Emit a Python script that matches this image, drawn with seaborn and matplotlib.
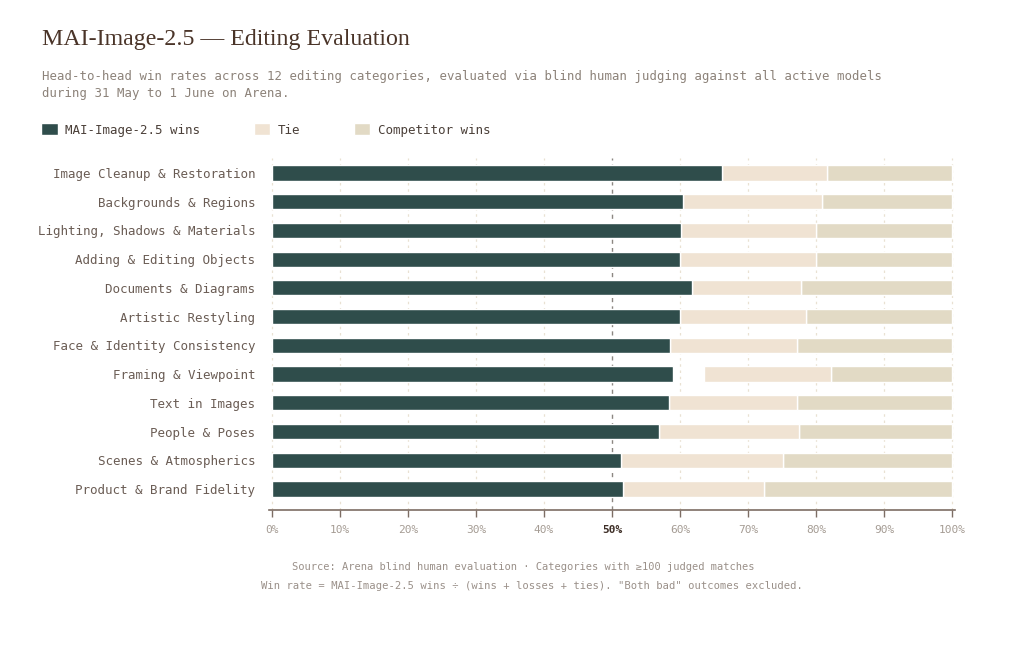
import numpy as np
import pandas as pd
import matplotlib
matplotlib.use("Agg")
import matplotlib.pyplot as plt
from matplotlib.patches import Patch
import seaborn as sns

categories = [
    "Image Cleanup & Restoration",
    "Backgrounds & Regions",
    "Lighting, Shadows & Materials",
    "Adding & Editing Objects",
    "Documents & Diagrams",
    "Artistic Restyling",
    "Face & Identity Consistency",
    "Framing & Viewpoint",
    "Text in Images",
    "People & Poses",
    "Scenes & Atmospherics",
    "Product & Brand Fidelity",
]
wins = [66.2, 60.4, 60.2, 60.0, 61.7, 60.0, 58.5, 59.0, 58.4, 56.9, 51.3, 51.6]
ties = [15.4, 20.4, 19.8, 20.0, 16.1, 18.5, 18.7, 18.7, 18.8, 20.6, 23.8, 20.7]
competitor = [18.4, 19.2, 20.0, 20.0, 22.2, 21.5, 22.8, 17.8, 22.8, 22.5, 24.9, 27.7]
xticks = [0, 10, 20, 30, 40, 50, 60, 70, 80, 90, 100]

WIN_C = "#2f4d4b"
TIE_C = "#f0e3d3"
COMP_C = "#e2dac5"
MONO = "DejaVu Sans Mono"

sns.set_theme(style="white")
plt.rcParams["font.family"] = [MONO]

df = pd.DataFrame({"category": categories, "wins": wins,
                   "ties": ties, "competitor": competitor})
# competitor bar sits at the right end, tie bar just left of it
comp_left = 100 - df["competitor"]
tie_left = comp_left - df["ties"]

fig = plt.figure(figsize=(10.24, 6.51), dpi=100)
ax = fig.add_axes([269 / 1024, 1 - 510 / 651, 686 / 1024, 352 / 651])

# grid
for t in xticks:
    if t == 50:
        ax.axvline(t, color="#8c8782", lw=1.0, ls=(0, (3, 3)), zorder=0.5)
    else:
        ax.axvline(t, color="#e9e1d2", lw=0.9, ls=(0, (2, 3)), zorder=0.5)

ypos = np.arange(len(categories))
h = 0.53
ax.barh(ypos, df["competitor"], left=comp_left, height=h, color=COMP_C, zorder=2)
ax.barh(ypos, df["ties"], left=tie_left, height=h, color=TIE_C, zorder=2)
sns.barplot(data=df, x="wins", y="category", orient="h", color=WIN_C,
            width=h, saturation=1, ax=ax, zorder=3)

ax.set_xlim(-0.4, 100.4)
ax.set_ylim(11.73, -0.52)
ax.set_xlabel("")
ax.set_ylabel("")

for s in ["top", "right", "left"]:
    ax.spines[s].set_visible(False)
ax.spines["bottom"].set_color("#7d6d64")
ax.spines["bottom"].set_linewidth(1.2)

ax.set_xticks(xticks)
ax.set_xticklabels([f"{t}%" for t in xticks])
ax.tick_params(axis="x", bottom=True, length=5, width=1, color="#7d6d64",
               labelsize=8, labelcolor="#a59c94", pad=6)
ax.tick_params(axis="y", left=False, length=0, labelsize=9,
               labelcolor="#6a5c54", pad=10)
for lbl in ax.get_xticklabels():
    if lbl.get_text() == "50%":
        lbl.set_fontweight("bold")
        lbl.set_color("#3e2f27")

# title & subtitle
fig.text(42 / 1024, 1 - 40 / 651, "MAI-Image-2.5 \u2014 Editing Evaluation",
         family="Liberation Serif", fontsize=17.2, color="#4a3428", va="center")
fig.text(42 / 1024, 1 - 85 / 651,
         "Head-to-head win rates across 12 editing categories, evaluated via blind human judging against all active models\n"
         "during 31 May to 1 June on Arena.",
         fontsize=8.95, color="#8c8279", va="center", linespacing=1.45)

handles = [Patch(facecolor=WIN_C, label="MAI-Image-2.5 wins"),
           Patch(facecolor=TIE_C, label="Tie"),
           Patch(facecolor=COMP_C, label="Competitor wins")]
leg = fig.legend(handles=handles, loc="center left",
                 bbox_to_anchor=(30 / 1024, 1 - 130 / 651), ncol=3,
                 frameon=False, fontsize=9, handlelength=1.3, handleheight=1.1,
                 handletextpad=0.6, columnspacing=4.3)
for t in leg.get_texts():
    t.set_color("#4a3f38")

fig.text(0.511, 1 - 567 / 651,
         "Source: Arena blind human evaluation \u00b7 Categories with \u2265100 judged matches",
         fontsize=7.5, color="#9a9089", ha="center", va="center")
fig.text(0.519, 1 - 586 / 651,
         "Win rate = MAI-Image-2.5 wins \u00f7 (wins + losses + ties). \"Both bad\" outcomes excluded.",
         fontsize=7.55, color="#9a9089", ha="center", va="center")

fig.savefig("out.png", dpi=100, facecolor="white")
